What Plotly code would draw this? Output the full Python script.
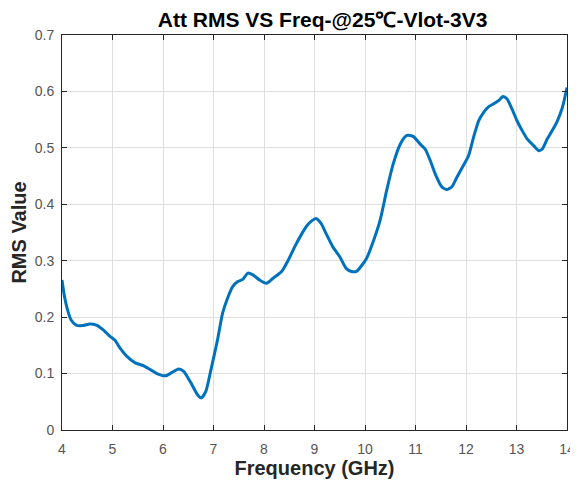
import plotly.graph_objects as go

# Frequency (GHz) and RMS value
freq_ghz = [
    4.00, 4.05, 4.11, 4.18, 4.28, 4.41, 4.55, 4.68, 4.81, 4.95,
    5.05, 5.15, 5.28, 5.45, 5.61, 5.75, 5.88, 6.05, 6.18, 6.31,
    6.41, 6.55, 6.68, 6.76, 6.85, 6.95, 7.08, 7.18, 7.28, 7.38,
    7.48, 7.58, 7.68, 7.78, 7.91, 8.05, 8.18, 8.35, 8.48, 8.61,
    8.75, 8.85, 8.95, 9.03, 9.13, 9.23, 9.36, 9.50, 9.63, 9.73,
    9.83, 9.93, 10.03, 10.17, 10.30, 10.43, 10.56, 10.70, 10.83, 10.96,
    11.09, 11.19, 11.29, 11.39, 11.52, 11.62, 11.72, 11.82, 11.95, 12.05,
    12.15, 12.25, 12.35, 12.45, 12.55, 12.65, 12.73, 12.81, 12.91, 13.01,
    13.11, 13.21, 13.34, 13.44, 13.51, 13.61, 13.71, 13.81, 13.91, 14.00,
]
rms_value = [
    0.266, 0.236, 0.213, 0.195, 0.186, 0.185, 0.188, 0.186, 0.178, 0.166,
    0.159, 0.145, 0.131, 0.119, 0.114, 0.107, 0.100, 0.096, 0.102, 0.108,
    0.104, 0.084, 0.063, 0.057, 0.069, 0.107, 0.160, 0.207, 0.234, 0.254,
    0.263, 0.267, 0.278, 0.275, 0.266, 0.260, 0.269, 0.281, 0.301, 0.325,
    0.348, 0.362, 0.371, 0.375, 0.366, 0.348, 0.325, 0.307, 0.286, 0.281,
    0.281, 0.291, 0.304, 0.336, 0.372, 0.425, 0.472, 0.507, 0.522, 0.520,
    0.507, 0.498, 0.478, 0.454, 0.431, 0.426, 0.431, 0.448, 0.469, 0.486,
    0.519, 0.548, 0.563, 0.573, 0.578, 0.584, 0.591, 0.587, 0.569, 0.548,
    0.531, 0.516, 0.504, 0.495, 0.498, 0.516, 0.531, 0.548, 0.572, 0.607,
]

x_ticks = list(range(4, 15))
y_ticks = [0, 0.1, 0.2, 0.3, 0.4, 0.5, 0.6, 0.7]
y_tick_text = ["0", "0.1", "0.2", "0.3", "0.4", "0.5", "0.6", "0.7"]

AXIS_COLOR = "#262626"
GRID_COLOR = "#dfdfdf"
TICK_COLOR = "#555555"
LINE_COLOR = "#0072bd"

fig = go.Figure()
fig.add_trace(
    go.Scatter(
        x=freq_ghz,
        y=rms_value,
        mode="lines",
        line={"color": LINE_COLOR, "width": 3, "shape": "spline", "smoothing": 0.6},
        showlegend=False,
    )
)

axis_common = {
    "showline": True,
    "linecolor": AXIS_COLOR,
    "linewidth": 1,
    "mirror": "allticks",
    "ticks": "inside",
    "ticklen": 5,
    "tickcolor": AXIS_COLOR,
    "showgrid": True,
    "gridcolor": GRID_COLOR,
    "gridwidth": 1,
    "zeroline": False,
    "automargin": False,
    "tickfont": {"size": 14, "color": TICK_COLOR},
}

# the page body adds an 8px offset, so the figure is 8px smaller each way
fig.update_layout(
    width=570,
    height=478,
    margin={"l": 54, "r": 11, "t": 27, "b": 56},
    paper_bgcolor="white",
    plot_bgcolor="white",
    font={"family": "Liberation Sans, Arial, sans-serif", "color": AXIS_COLOR},
    title={
        "text": "<b>Att RMS VS Freq-@25℃-Vlot-3V3</b>",
        "xref": "container",
        "yref": "container",
        "x": 0.552,
        "xanchor": "center",
        "y": 0.976,
        "yanchor": "middle",
        "font": {"size": 21, "color": "#000000"},
    },
    xaxis={
        **axis_common,
        "range": [4, 14],
        "tickvals": x_ticks,
        "ticklabelstandoff": 6,
        "title": {"text": "<b>Frequency (GHz)</b>", "font": {"size": 20}, "standoff": 2},
    },
    yaxis={
        **axis_common,
        "range": [0, 0.7],
        "tickvals": y_ticks,
        "ticktext": y_tick_text,
        "ticklabelstandoff": 4,
        "title": {"text": "<b>RMS Value</b>", "font": {"size": 20}, "standoff": 9},
    },
)

fig.write_html("out.html")
